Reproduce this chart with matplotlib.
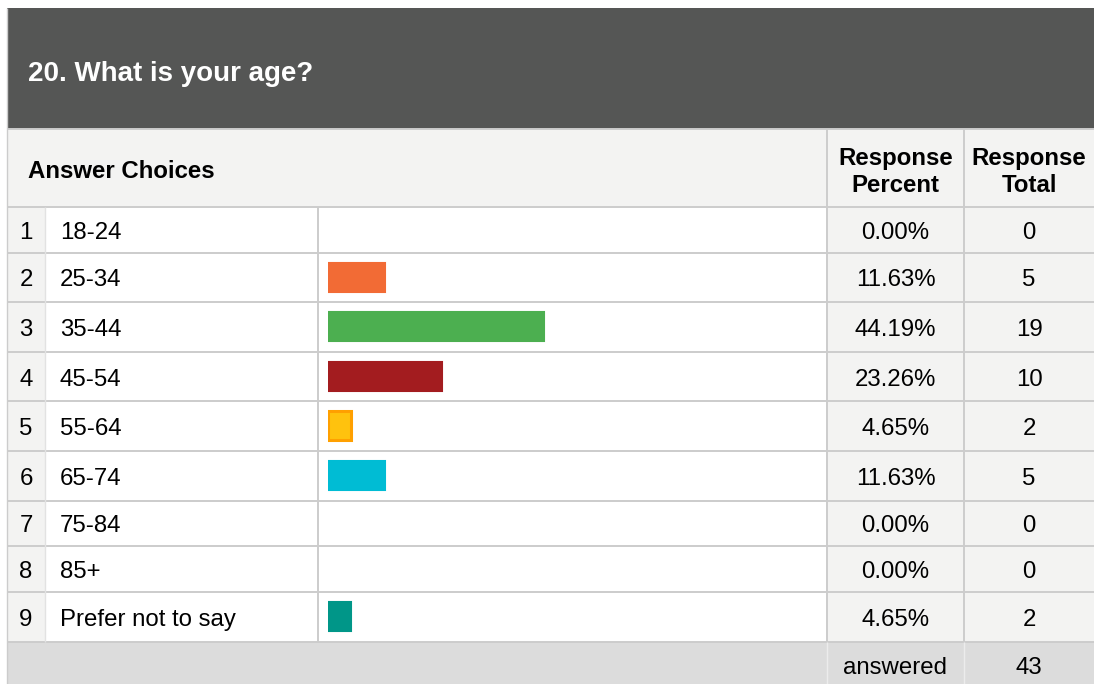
import matplotlib.pyplot as plt
from matplotlib.patches import Rectangle

# survey data
title = "20. What is your age?"
numbers = ["1", "2", "3", "4", "5", "6", "7", "8", "9"]
choices = ["18-24", "25-34", "35-44", "45-54", "55-64", "65-74", "75-84", "85+",
           "Prefer not to say"]
percents = [0.00, 11.63, 44.19, 23.26, 4.65, 11.63, 0.00, 0.00, 4.65]
totals = [0, 5, 19, 10, 2, 5, 0, 0, 2]
answered = 43
bar_colors = ["#f26b35", "#f26b35", "#4caf50", "#a31c1f", "#ffc20e",
              "#00bcd4", "#00bcd4", "#00bcd4", "#009688"]
bar_edges = ["#f26b35", "#f26b35", "#4caf50", "#a31c1f", "#ffa000",
             "#00bcd4", "#00bcd4", "#00bcd4", "#009688"]

# layout in pixels
W, H = 1094, 684
x_left, x_num, x_lab, x_pct, x_tot = 7, 45, 318, 827, 964
row_edges = [207, 253, 302, 352, 401, 451, 501, 546, 592, 642]
grid = "#cccccc"
light = "#f3f3f2"
font = "Liberation Sans"
fs = 17.3
dy = 3  # text baseline nudge

fig = plt.figure(figsize=(W / 100, H / 100), dpi=100)
ax = fig.add_axes([0, 0, 1, 1])
ax.set_xlim(0, W)
ax.set_ylim(H, 0)
ax.axis("off")

def box(x0, y0, x1, y1, color):
    ax.add_patch(Rectangle((x0, y0), x1 - x0, y1 - y0, facecolor=color,
                           edgecolor="none", zorder=1))

def hline(y, x0, x1, c=grid, lw=1.4):
    ax.plot([x0, x1], [y, y], color=c, lw=lw, zorder=3, solid_capstyle="butt")

def vline(x, y0, y1, c=grid, lw=1.4):
    ax.plot([x, x], [y0, y1], color=c, lw=lw, zorder=3, solid_capstyle="butt")

# title band
box(x_left, 8, W, 129, "#555655")
ax.text(28, 71 + dy, title, color="white", fontsize=20, fontweight="bold",
        family=font, va="center", ha="left", zorder=4)

# header row
box(x_left, 129, W, row_edges[0], light)
ax.text(28, 169 + dy, "Answer Choices", fontsize=fs, fontweight="bold", family=font,
        va="center", ha="left", zorder=4)
ax.text((x_pct + x_tot) / 2, 169 + dy, "Response\nPercent", fontsize=fs,
        fontweight="bold", family=font, va="center", ha="center",
        linespacing=1.25, zorder=4)
ax.text((x_tot + W + 2) / 2 - 1, 169 + dy, "Response\nTotal", fontsize=fs,
        fontweight="bold", family=font, va="center", ha="center",
        linespacing=1.25, zorder=4)

# body backgrounds
top, bot = row_edges[0], row_edges[-1]
box(x_left, top, x_num, bot, light)
box(x_num, top, x_pct, bot, "white")
box(x_pct, top, W, bot, light)
box(x_left, bot, W, H, "#dcdcdc")

# grid
hline(129, x_left, W)
for y in row_edges:
    hline(y, x_left, W)
vline(x_left, 8, H, lw=1.0)
vline(x_num, top, bot, c="#e2e2e2", lw=1.0)
vline(x_lab, top, bot)
vline(x_pct, 129, bot)
vline(x_tot, 129, bot)
vline(x_pct, bot, H, c="#ececec", lw=1.0)
vline(x_tot, bot, H, c="#ececec", lw=1.0)

centers = [(a + b) / 2 for a, b in zip(row_edges[:-1], row_edges[1:])]
for yc, n, c, p, t in zip(centers, numbers, choices, percents, totals):
    ax.text((x_left + x_num) / 2, yc + dy, n, fontsize=fs, family=font,
            va="center", ha="center", zorder=4)
    ax.text(60, yc + dy, c, fontsize=fs, family=font, va="center", ha="left", zorder=4)
    ax.text((x_pct + x_tot) / 2, yc + dy, f"{p:.2f}%", fontsize=fs, family=font,
            va="center", ha="center", zorder=4)
    ax.text((x_tot + W + 2) / 2 - 1, yc + dy, str(t), fontsize=fs, family=font,
            va="center", ha="center", zorder=4)

ax.text((x_pct + x_tot) / 2, 665 + dy, "answered", fontsize=fs, family=font,
        va="center", ha="center", zorder=4)
ax.text((x_tot + W + 2) / 2 - 1, 665 + dy, str(answered), fontsize=fs, family=font,
        va="center", ha="center", zorder=4)

# bars in their own axes, 0-100 %
bx0, bx1 = 328, 816
bax = fig.add_axes([bx0 / W, (H - bot) / H, (bx1 - bx0) / W, (bot - top) / H])
bax.set_xlim(0, 100)
bax.set_ylim(bot, top)
bax.axis("off")
for yc, p, fc, ec in zip(centers, percents, bar_colors, bar_edges):
    if p > 0:
        bax.barh(yc, p, height=29, left=0, color=fc, edgecolor=ec,
                 linewidth=1.5 if fc == ec else 2.2)

fig.savefig("out.png", dpi=100)
